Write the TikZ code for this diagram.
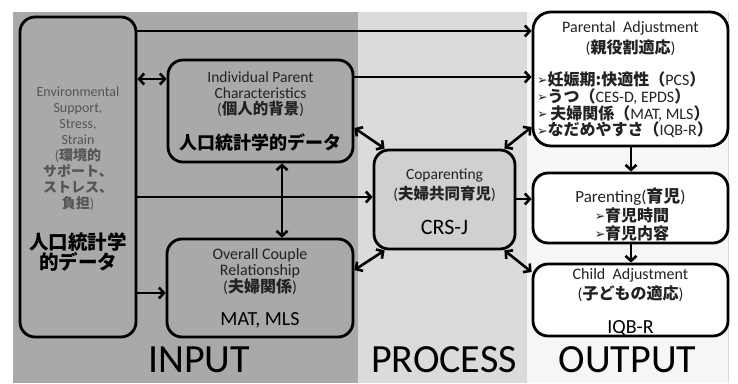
\documentclass[tikz,border=0pt]{standalone}
\usepackage{fontspec}
\setmainfont{Carlito}
\newfontfamily\jpf{Noto Sans CJK JP}
\newfontfamily\symf{DejaVu Sans}
\usetikzlibrary{arrows.meta,calc}
\newcommand\J[1]{{\jpf\bfseries #1}}
\newcommand\JB[1]{{\jpf\bfseries\fontsize{16}{16.7}\selectfont #1}}
\newcommand\Bl{\raisebox{0.8pt}{\symf\fontsize{12.5}{12}\selectfont\char"27A2}}
\definecolor{inbg}{HTML}{A9A9A9}
\definecolor{prbg}{HTML}{DBDBDB}
\definecolor{copfill}{HTML}{D0D0D0}
\definecolor{outbg}{HTML}{F6F6F6}
\definecolor{txt}{HTML}{222222}
\definecolor{envtxt}{HTML}{555555}
\begin{document}
\begin{tikzpicture}[x=1pt,y=-1pt,
  box/.style={draw=black, line width=2.8pt, rounded corners=15pt, inner sep=0pt},
  arr/.style={line width=2.6pt, -{Straight Barb[length=5pt,width=11pt]}},
  darr/.style={line width=2.6pt, {Straight Barb[length=5pt,width=11pt]}-{Straight Barb[length=5pt,width=11pt]}},
  lbl/.style={font=\fontsize{12}{16}\selectfont, text=txt, align=center, inner sep=0pt},
  big/.style={font=\fontsize{20}{20}\selectfont, text=black, align=center, inner sep=0pt},
  region/.style={font=\fontsize{40}{40}\selectfont, text=black, inner sep=0pt, anchor=base}
]
\useasboundingbox (0,0) rectangle (738,383);
\fill[white] (0,0) rectangle (738,383);
% regions
\fill[inbg] (13,12) rectangle (358,383);
\fill[prbg] (358,12) rectangle (527,383);
\fill[outbg] (527,12) rectangle (728,383);
\draw[black!15, line width=0.6pt] (728,12) -- (728,383);

% boxes
\node[box, minimum width=116pt, minimum height=320pt] (env) at (78,177) {};
\node[box, minimum width=185pt, minimum height=102pt] (ipc) at (260.5,111) {};
\node[box, minimum width=186pt, minimum height=98pt] (ocr) at (260,288) {};
\node[box, fill=copfill, minimum width=141pt, minimum height=99pt] (cop) at (444.5,199.5) {};
\node[box, fill=white, rounded corners=18pt, minimum width=195pt, minimum height=134pt] (pa) at (630.5,79) {};
\node[box, fill=white, minimum width=195pt, minimum height=70pt] (par) at (630.5,208) {};
\node[box, fill=white, minimum width=195pt, minimum height=72pt] (chi) at (630.5,300) {};

% texts
\node[lbl, text=envtxt, font=\fontsize{14}{16}\selectfont] (envt) at (78,148.5)
  {Environmental\\Support,\\Stress,\\Strain\\(\J{環境的}\\\J{サポート、}\\\J{ストレス、}\\\J{負担})};
\node[big, font=\fontsize{19.5}{20}\selectfont] (envd) at (78,252) {\J{人口統計学}\\\J{的データ}};

\node[lbl, font=\fontsize{15.5}{16}\selectfont] (ipct) at (260.5,94.5)
  {Individual Parent\\Characteristics\\(\J{個人的背景})};
\node[big, font=\fontsize{18}{20}\selectfont] (ipcd) at (260.5,142) {\J{人口統計学的データ}};

\node[lbl, font=\fontsize{16}{16.5}\selectfont] (ocrt) at (260,271.5)
  {Overall Couple\\Relationship\\(\J{夫婦関係})};
\node[big] (ocrd) at (260,320) {MAT, MLS};

\node[lbl, font=\fontsize{15.5}{20}\selectfont] (copt) at (444.5,185)
  {Coparenting\\(\J{夫婦共同育児})};
\node[big, font=\fontsize{22}{20}\selectfont] (copd) at (444.5,227) {CRS-J};

\node[lbl, font=\fontsize{16}{21}\selectfont] (pat) at (630.5,39)
  {Parental\ \ Adjustment\\(\J{親役割適応})};
\node[lbl, align=left, anchor=west, font=\fontsize{16}{16.7}\selectfont] (pab) at (537,105)
  {\Bl\JB{妊娠期:快適性（}PCS\JB{）}\\\Bl\JB{うつ（}CES-D, EPDS\JB{）}\\\Bl\,\JB{夫婦関係（}MAT, MLS\JB{）}\\\Bl\JB{なだめやすさ（}IQB-R\JB{）}};

\node[lbl, font=\fontsize{17}{16}\selectfont] (part) at (630.5,197) {Parenting(\J{育児})};
\node[lbl, align=left, font=\fontsize{16}{18}\selectfont] (parb) at (632,224)
  {\Bl\J{育児時間}\\\Bl\J{育児内容}};

\node[lbl, font=\fontsize{16}{20}\selectfont] (chit) at (630.5,285)
  {Child\ \ Adjustment\\(\J{子どもの適応})};
\node[big] (chid) at (630.5,328) {IQB-R};

\node[region] (rin) at (199,372) {INPUT};
\node[region] (rpr) at (444,372) {PROCESS};
\node[region] (rout) at (627.5,372) {OUTPUT};

% helper coordinates
\coordinate (y31) at (0,31);
\coordinate (y79) at (0,79);
\coordinate (y77) at (0,77);
\coordinate (y128) at (0,128);
\coordinate (y127) at (0,127);
\coordinate (y197) at (0,197);
\coordinate (y199) at (0,199);
\coordinate (y270) at (0,270);
\coordinate (y272) at (0,272);
\coordinate (y293) at (0,293);
\coordinate (x282) at (282,0);
\coordinate (x631) at (631,0);

% connectors
\draw[arr] (env.east |- y31) -- (pa.west |- y31);
\draw[darr] (env.east |- y79) -- (ipc.west |- y79);
\draw[arr] (ipc.east |- y77) -- (pa.west |- y77);
\draw[darr] (ipc.east |- y128) -- ($(cop.north west)+(12,0)$);
\draw[darr] ($(cop.north east)+(-12,0)$) -- (pa.west |- y127);
\draw[darr] (ipc.south -| x282) -- (ocr.north -| x282);
\draw[arr] (env.east |- y197) -- (cop.west |- y197);
\draw[arr] (env.east |- y293) -- (ocr.west |- y293);
\draw[darr] (ocr.east |- y270) -- ($(cop.south west)+(12,0)$);
\draw[arr] (cop.east |- y199) -- (par.west |- y199);
\draw[darr] ($(cop.south east)+(-12,0)$) -- (chi.west |- y272);
\draw[arr] (pa.south -| x631) -- (par.north -| x631);
\draw[arr] (par.south -| x631) -- (chi.north -| x631);
\end{tikzpicture}
\end{document}
